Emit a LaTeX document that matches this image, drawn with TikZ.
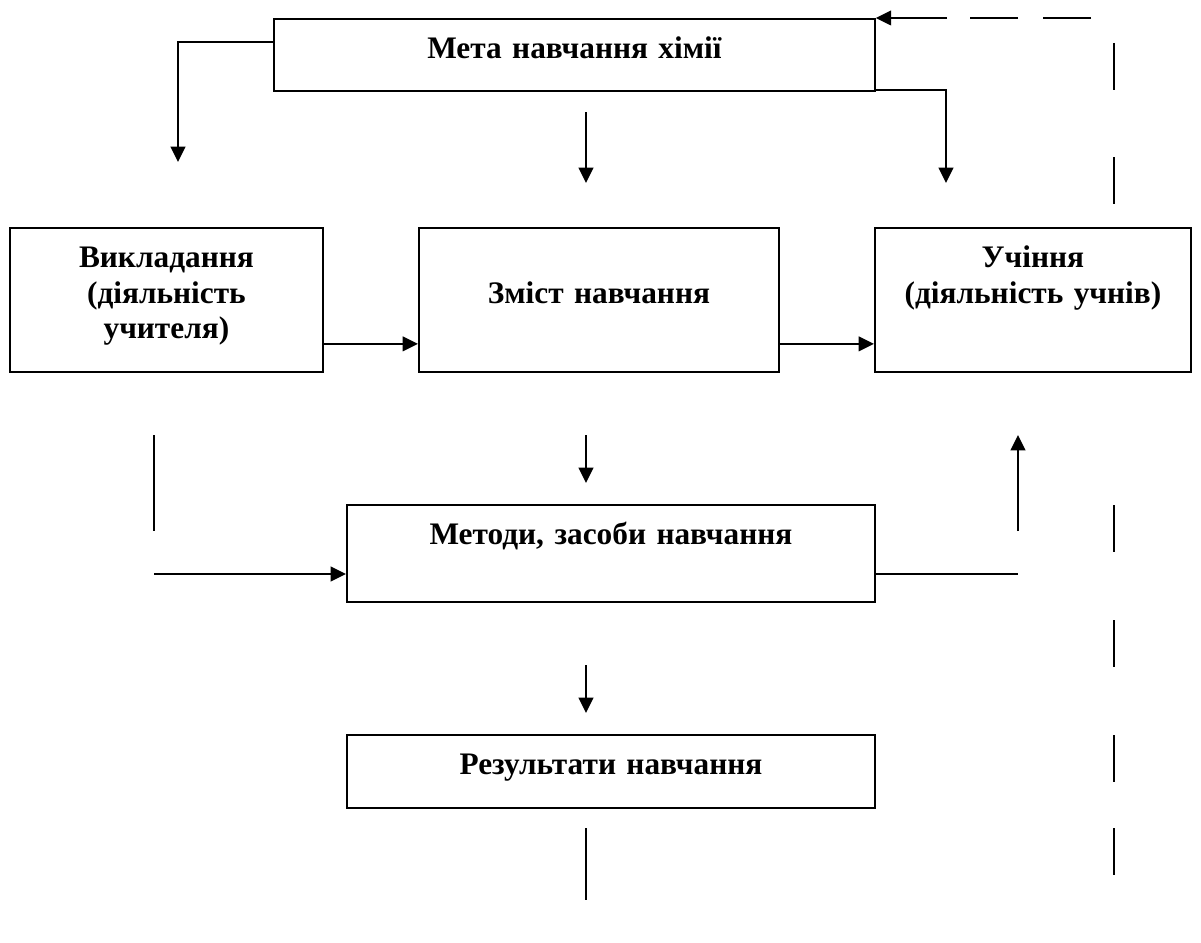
\documentclass[tikz,border=0pt]{standalone}
\usepackage{fontspec}
\setmainfont{Liberation Serif}
\usepackage{tikz}
\usetikzlibrary{arrows.meta, calc, positioning}

\begin{document}
\begin{tikzpicture}[x=0.75pt, y=-0.75pt,
        blk/.style={draw, line width=1.4pt, anchor=north west, inner xsep=0pt, inner ysep=14.25pt,
            text height=15.75pt, align=center, font=\fontsize{23.5}{26.5}\selectfont\bfseries},
        arr/.style={line width=1.5pt, -{Triangle[length=11.5pt, width=11pt]}},
        ln/.style={line width=1.2pt},
        dsh/.style={line width=1.2pt}]
    \useasboundingbox (0,0) rectangle (1201,942);

    % blocks
    \node[blk, text width=450.75pt, text depth=9.75pt] (meta) at (273,18) {Мета навчання хімії};
    \node[blk, text width=234.75pt, text depth=63.75pt] (vykl) at (9,227) {Викладання\\(діяльність\\учителя)};
    \node[blk, text width=270pt, text depth=63.75pt] (zmist) at (418,227) {\mbox{}\\Зміст навчання};
    \node[blk, text width=237pt, text depth=63.75pt] (uch) at (874,227) {Учіння\\(діяльність учнів)};
    \node[blk, text width=396pt, text depth=28.5pt] (metody) at (346,504) {Методи, засоби навчання};
    \node[blk, text width=396pt, text depth=10.5pt] (rez) at (346,734) {Результати навчання};

    % free ends of the connectors
    \coordinate (goal-l) at (178,162);
    \coordinate (zm-top) at (586,112);
    \coordinate (zm-in) at (586,183);
    \coordinate (uch-in) at (946,183);
    \coordinate (fb) at (1114,18); % corner of the feedback line
    \coordinate (met-top) at (586,435);
    \coordinate (met-in) at (586,483);
    \coordinate (tl-top) at (154,435);
    \coordinate (tl-bot) at (154,531);
    \coordinate (tl-corner) at (154,574);
    \coordinate (rt-corner) at (1018,574);
    \coordinate (rt-mid) at (1018,531);
    \coordinate (rt-tip) at (1018,435);
    \coordinate (rez-top) at (586,665);
    \coordinate (rez-in) at (586,713);
    \coordinate (rez-out) at (586,828);
    \coordinate (rez-end) at (586,900);

    % from the goal
    \draw[arr] ($(meta.north west)+(0,24)$) -| (goal-l);
    \draw[arr] (zm-top) -- (zm-in);
    \draw[arr] ($(meta.south east)+(0,-2)$) -| (uch-in);

    % feedback (dashed)
    \draw[arr] ($(fb)+(-167,0)$) -- (meta.north east);
    \foreach \a in {96,23} \draw[dsh] ($(fb)+(-\a,0)$) -- ++(-48,0);
    \foreach \a in {25,139,487,602,717,810} \draw[dsh] ($(fb)+(0,\a)$) -- ++(0,47);

    % middle row
    \draw[arr] ($(vykl.south east)+(0,-29)$) -- ($(zmist.south west)+(0,-29)$);
    \draw[arr] ($(zmist.south east)+(0,-29)$) -- ($(uch.south west)+(0,-29)$);
    \draw[arr] (met-top) -- (met-in);

    % around the methods
    \draw[ln] (tl-top) -- (tl-bot);
    \draw[arr] (tl-corner) -- (tl-corner -| metody.west);
    \draw[ln] (rt-corner -| metody.east) -- (rt-corner);
    \draw[arr] (rt-mid) -- (rt-tip);

    % results
    \draw[arr] (rez-top) -- (rez-in);
    \draw[ln] (rez-out) -- (rez-end);
\end{tikzpicture}
\end{document}
